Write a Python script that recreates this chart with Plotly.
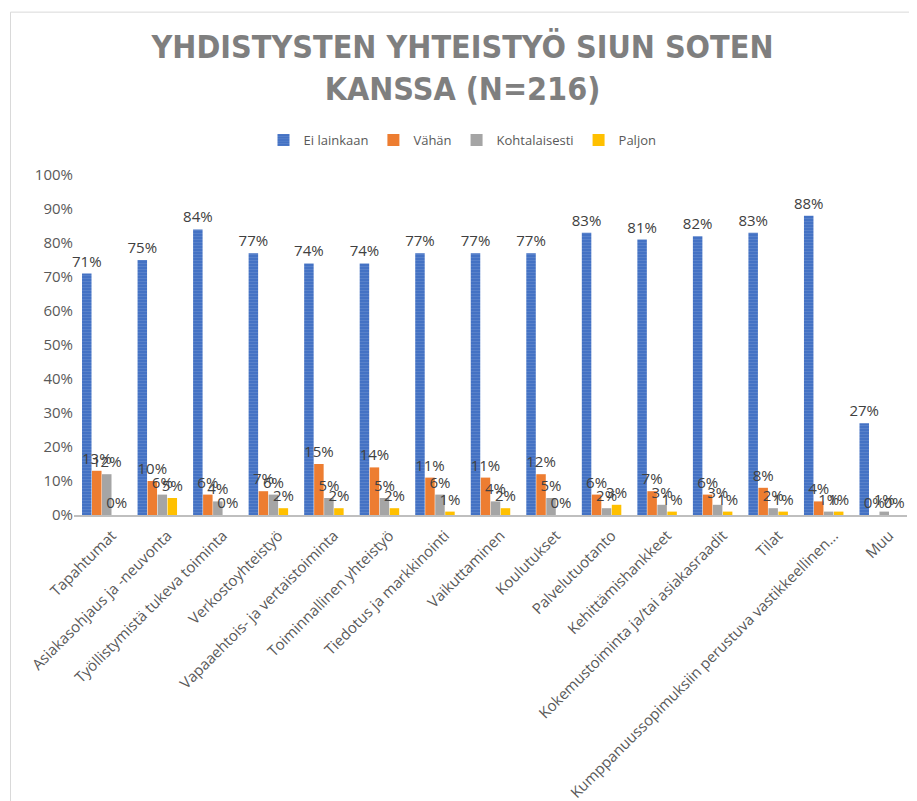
import plotly.graph_objects as go

categories = [
    "Tapahtumat", "Asiakasohjaus ja -neuvonta", "Työllistymistä tukeva toiminta",
    "Verkostoyhteistyö", "Vapaaehtois- ja vertaistoiminta", "Toiminnallinen yhteistyö",
    "Tiedotus ja markkinointi", "Vaikuttaminen", "Koulutukset", "Palvelutuotanto",
    "Kehittämishankkeet", "Kokemustoiminta ja/tai asiakasraadit", "Tilat",
    "Kumppanuussopimuksiin perustuva vastikkeellinen...", "Muu",
]
ei_lainkaan = [71, 75, 84, 77, 74, 74, 77, 77, 77, 83, 81, 82, 83, 88, 27]
vahan = [13, 10, 6, 7, 15, 14, 11, 11, 12, 6, 7, 6, 8, 4, 0]
kohtalaisesti = [12, 6, 4, 6, 5, 5, 6, 4, 5, 2, 3, 3, 2, 1, 1]
paljon = [0, 5, 0, 2, 2, 2, 1, 2, 0, 3, 1, 1, 1, 1, 0]

series = [
    ("Ei lainkaan", ei_lainkaan, "#4472C4"),
    ("Vähän", vahan, "#ED7D31"),
    ("Kohtalaisesti", kohtalaisesti, "#A5A5A5"),
    ("Paljon", paljon, "#FFC000"),
]

fig = go.Figure()
for name, vals, col in series:
    fig.add_trace(go.Bar(
        name=name, x=categories, y=[v / 100 for v in vals],
        marker=dict(color=col, line=dict(width=0),
                    pattern=dict(shape="-", fgcolor="rgba(255,255,255,0.35)", size=3, solidity=0.2) if name == "Ei lainkaan" else None),
        text=[f"{v}%" for v in vals], textposition="outside",
        textfont=dict(family="Open Sans, sans-serif", size=15, color="#404040"),
        constraintext="none", cliponaxis=False,
    ))

# the page body adds an 8px offset; figure sized to fit the window
fig.update_layout(
    width=909, height=793,
    paper_bgcolor="white", plot_bgcolor="white",
    margin=dict(l=66, r=10, t=167, b=286),
    barmode="group", bargap=0.28, bargroupgap=0.05,
    title=dict(
        text="<b>YHDISTYSTEN YHTEISTYÖ SIUN SOTEN<br>KANSSA (N=216)</b>",
        x=0.5, xref="container", xanchor="center", y=0.9365, yref="container", yanchor="middle",
        font=dict(family="DejaVu Sans Condensed, DejaVu Sans, sans-serif", size=32, color="#7F7F7F"),
    ),
    legend=dict(
        orientation="h", x=0.5, xref="container", xanchor="center", y=0.8335, yref="container", yanchor="middle",
        font=dict(family="Open Sans, sans-serif", size=13, color="#595959"),
        itemwidth=30, traceorder="normal",
    ),
    font=dict(family="Open Sans, sans-serif", color="#595959"),
    xaxis=dict(
        tickangle=-45, tickfont=dict(size=15, color="#595959"),
        showline=True, linecolor="#BFBFBF", linewidth=2, ticks="",
        showgrid=False, automargin=False, ticklabelshift=10, ticklabelstandoff=4,
    ),
    yaxis=dict(
        range=[0, 1], tickformat=".0%", dtick=0.1, tickfont=dict(size=15, color="#595959"),
        showgrid=False, zeroline=False, showline=False, ticks="", automargin=False,
    ),
    shapes=[dict(type="rect", xref="paper", yref="paper", x0=-0.0762, x1=1.2, y0=-0.9, y1=1.479,
                 line=dict(color="#D9D9D9", width=1), fillcolor="rgba(0,0,0,0)", layer="below")],
)

fig.write_html("out.html")
